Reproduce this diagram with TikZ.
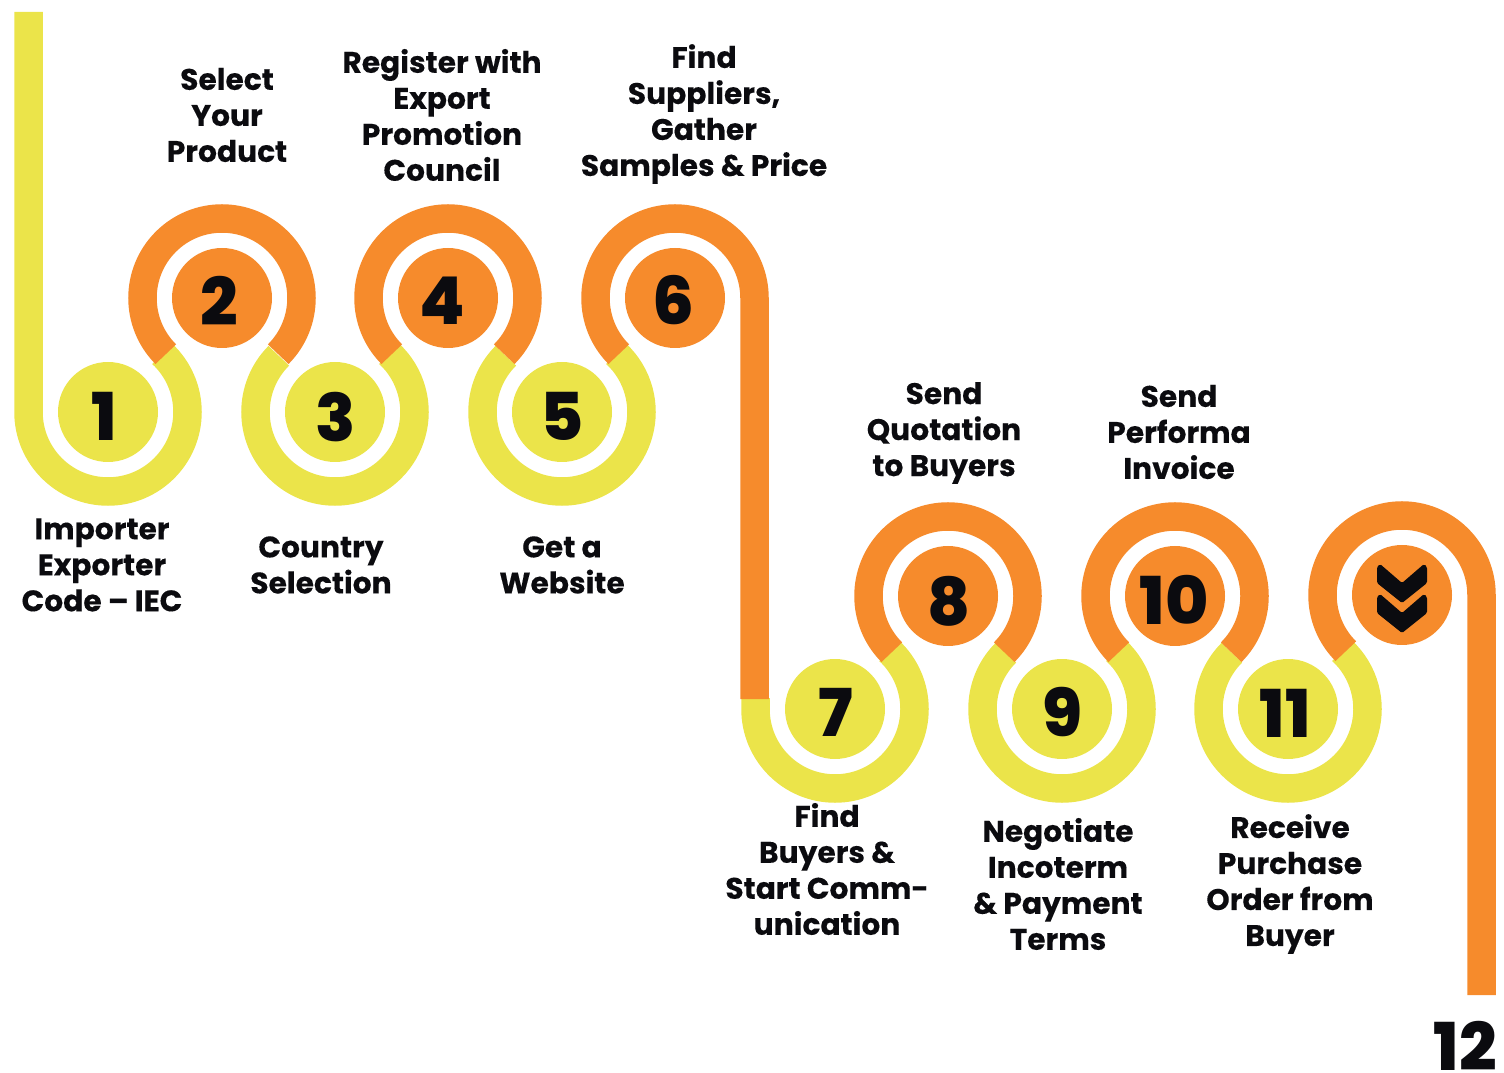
\documentclass[tikz,border=0pt]{standalone}
\usepackage{fontspec}
\setmainfont{Poppins}[BoldFont=* Bold,BoldFeatures={FakeBold=0.25}]
\newfontface\numface{Poppins ExtraBold}
\definecolor{bandY}{HTML}{EBE44A}
\definecolor{bandO}{HTML}{F68B2C}
\definecolor{inkK}{HTML}{0B0B0F}
\tikzset{
  yband/.style={draw=bandY,line width=28.5pt,line cap=butt},
  oband/.style={draw=bandO,line width=28.5pt,line cap=butt},
  numdot/.style={circle,minimum size=100pt,inner sep=0pt},
  ydot/.style={numdot,fill=bandY},
  odot/.style={numdot,fill=bandO},
  numtxt/.style={inner sep=0pt,text=inkK,font=\fontsize{66}{66}\selectfont\numface},
  lab/.style={align=center,inner sep=0pt,text=inkK,font=\fontsize{29.7}{36}\selectfont\bfseries},
}
\begin{document}
\begin{tikzpicture}[x=1pt,y=1pt]
\useasboundingbox (0,0) rectangle (1504,1072);
% ring centres
\coordinate (r1) at (108,660);
\coordinate (r2) at (222,774);
\coordinate (r3) at (335,660);
\coordinate (r4) at (448,774);
\coordinate (r5) at (562,660);
\coordinate (r6) at (675,774);
\coordinate (r7) at (835,363);
\coordinate (r8) at (948,476);
\coordinate (r9) at (1062,363);
\coordinate (r10) at (1175,476);
\coordinate (r11) at (1288,363);
\coordinate (r12) at (1402,477);
% yellow bands
\draw[yband] (28.5,1060) -- (28.5,660) arc[start angle=180,end angle=407,radius=79.5pt];
\draw[yband] ([shift={(135:79.5)}]r3) arc[start angle=135,end angle=407,radius=79.5pt];
\draw[yband] ([shift={(135:79.5)}]r5) arc[start angle=135,end angle=407,radius=79.5pt];
\draw[yband] (755.5,374) -- (755.5,363) arc[start angle=180,end angle=407,radius=79.5pt];
\draw[yband] ([shift={(135:79.5)}]r9) arc[start angle=135,end angle=407,radius=79.5pt];
\draw[yband] ([shift={(135:79.5)}]r11) arc[start angle=135,end angle=407,radius=79.5pt];
% orange bands
\draw[oband] ([shift={(225:79.5)}]r2) arc[start angle=225,end angle=-45,radius=79.5pt];
\draw[oband] ([shift={(225:79.5)}]r4) arc[start angle=225,end angle=-45,radius=79.5pt];
\draw[oband] ([shift={(225:79.5)}]r6) arc[start angle=225,end angle=0,radius=79.5pt] -- (754.5,373);
\draw[oband] ([shift={(225:79.5)}]r8) arc[start angle=225,end angle=-45,radius=79.5pt];
\draw[oband] ([shift={(225:79.5)}]r10) arc[start angle=225,end angle=-45,radius=79.5pt];
\draw[oband] ([shift={(225:79.5)}]r12) arc[start angle=225,end angle=0,radius=79.5pt] -- (1481.5,77);
% discs
\node[ydot] (n1) at (r1) {};
\node[odot] (n2) at (r2) {};
\node[ydot] (n3) at (r3) {};
\node[odot] (n4) at (r4) {};
\node[ydot] (n5) at (r5) {};
\node[odot] (n6) at (r6) {};
\node[ydot] (n7) at (r7) {};
\node[odot] (n8) at (r8) {};
\node[ydot] (n9) at (r9) {};
\node[odot] (n10) at (r10) {};
\node[ydot] (n11) at (r11) {};
\node[odot] (n12) at (r12) {};
% numbers
\node[numtxt] (d1) at (104,656) {1};
\node[numtxt] (d2) at (219,771.5) {2};
\node[numtxt] (d3) at (336,655) {3};
\node[numtxt] (d4) at (442,771) {4};
\node[numtxt] (d5) at (562,656) {5};
\node[numtxt] (d6) at (673,772) {6};
\node[numtxt] (d7) at (836,359.5) {7};
\node[numtxt] (d8) at (949,471) {8};
\node[numtxt] (d9) at (1062,360) {9};
\node[numtxt] (d10) at (1174,472) {10};
\node[numtxt] (d11) at (1285,359) {11};
% chevrons
\fill[inkK,rounded corners=1.5pt] (1377,505) -- (1380,508) -- (1402,489) -- (1424,508) -- (1427,505) -- (1427,489) -- (1402,469) -- (1377,489) -- cycle;
\fill[inkK,rounded corners=1.5pt] (1377,475) -- (1380,478) -- (1402,459) -- (1424,478) -- (1427,475) -- (1427,459) -- (1402,439) -- (1377,459) -- cycle;
% labels
\node[lab] (t1) at (102,507) {Importer\\Exporter\\Code – IEC};
\node[lab] (t2) at (227,957) {Select\\Your\\Product};
\node[lab] (t3) at (321,507) {Country\\Selection};
\node[lab] (t4) at (442,957) {Register with\\Export\\Promotion\\Council};
\node[lab] (t5) at (562,507) {Get a\\Website};
\node[lab] (t6) at (704,958) {Find\\Suppliers,\\Gather\\Samples \& Price};
\node[lab] (t7) at (827,203) {Find\\Buyers \&\\Start Comm-\\unication};
\node[lab] (t8) at (944,639) {Send\\Quotation\\to Buyers};
\node[lab] (t9) at (1058,188) {Negotiate\\Incoterm\\\& Payment\\Terms};
\node[lab] (t10) at (1179,640) {Send\\Performa\\Invoice};
\node[lab] (t11) at (1290,188) {Receive\\Purchase\\Order from\\Buyer};
\node[numtxt] (t12) at (1465,26.5) {12};
\end{tikzpicture}
\end{document}
